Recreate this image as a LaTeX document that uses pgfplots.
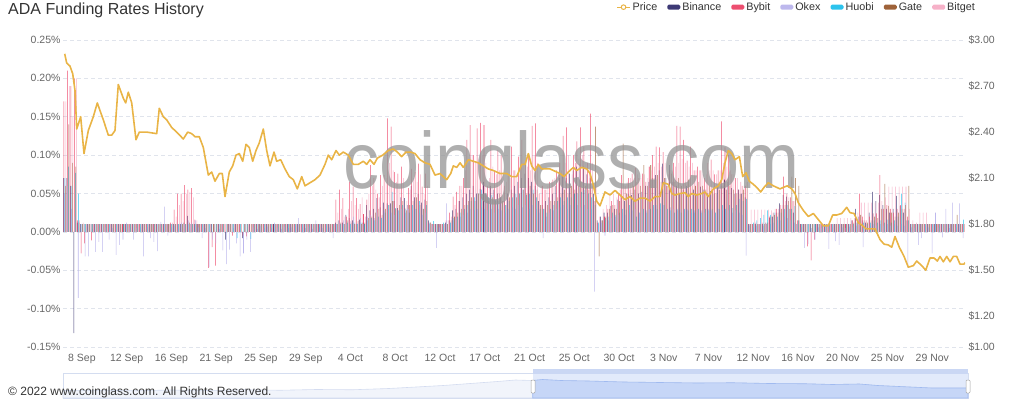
\documentclass[border=0pt]{standalone}
\usepackage{pgfplots}
\pgfplotsset{compat=1.18}
\usepackage{pgfplotstable}
\usepackage{fontspec}
\setmainfont{Liberation Sans}
\definecolor{cPrice}{RGB}{233,180,70}
\definecolor{cBin}{RGB}{45,40,105}
\definecolor{cByb}{RGB}{236,64,100}
\definecolor{cOkx}{RGB}{183,178,235}
\definecolor{cHuo}{RGB}{26,190,235}
\definecolor{cGat}{RGB}{150,85,40}
\definecolor{cBgt}{RGB}{245,170,195}
\definecolor{cGrid}{RGB}{224,228,236}
\definecolor{cTick}{RGB}{102,102,102}
\definecolor{cSlBorder}{RGB}{212,221,240}
\definecolor{cSlLine}{RGB}{212,220,240}
\definecolor{cSlArea}{RGB}{241,244,251}
\definecolor{cSlSel}{RGB}{226,234,251}
\definecolor{cSlSelArea}{RGB}{198,214,247}
\definecolor{cSlSelLine}{RGB}{160,186,240}
\definecolor{cSlTop}{RGB}{202,215,244}

% funding rates (%), one row per 8-hour period, Binance Bybit Okex Huobi Gate Bitget
\pgfplotstableread{
bn by ok hb gt bg
0.07 0.17 0.05 0.07 0.06 0.17
0.07 0.21 0.06 0.085 0.14 0.19
0.06 0.19 0.03 0.06 0.09 0.15
-0.132 0.20 0.02 0.077 0.085 0.20
0.012 0.015 -0.086 0.05 0.012 0.015
0.01 -0.028 0.01 0.01 0.01 0.012
0.01 -0.015 -0.032 0.01 0.01 0.01
0.01 0.01 -0.032 0.01 0.01 0.01
0.01 -0.011 0.004 0.01 0.01 0.01
0.01 0.01 -0.026 0.01 0.01 0.01
0.01 0.01 -0.013 0.01 0.01 0.01
0.01 0.01 -0.026 0.01 0.01 0.01
0.01 0.01 0.006 0.01 0.01 0.01
0.01 0.01 -0.01 0.01 0.01 0.01
0.01 0.01 0.005 0.01 0.01 0.01
0.01 0.01 -0.03 0.01 0.01 0.01
0.01 0.01 -0.017 0.01 0.01 0.01
0.01 0.01 -0.01 0.01 0.01 0.01
0.01 0.01 0.012 0.01 0.01 0.01
0.01 0.01 0.006 0.01 0.01 0.01
0.01 0.01 -0.01 0.01 0.01 0.01
0.01 0.01 0.005 0.01 0.01 0.01
0.01 0.01 0.007 0.01 0.01 0.01
0.01 0.01 -0.032 0.01 0.01 0.01
0.01 0.01 0.006 0.01 0.01 0.01
0.01 0.01 -0.008 0.01 0.01 0.01
0.01 0.01 -0.013 0.01 0.01 0.01
0.01 0.01 -0.025 0.01 0.01 0.01
0.01 0.01 0.013 0.01 0.01 0.01
0.01 0.01 0.033 0.01 0.01 0.01
0.01 0.01 -0.005 0.01 0.01 0.01
0.01 0.012 0.006 0.01 0.01 0.012
0.01 0.029 0.008 0.01 0.01 0.02
0.01 0.05 0.01 0.01 0.01 0.035
0.01 0.05 0.012 0.01 0.01 0.04
0.012 0.061 0.01 0.01 0.01 0.05
0.021 0.055 0.015 0.01 0.012 0.052
0.01 0.057 0.012 0.01 0.01 0.045
0.01 0.016 0.015 0.01 0.01 0.015
0.01 0.01 0.006 0.01 0.01 0.01
0.01 0.01 -0.008 0.01 0.01 0.01
0.01 0.01 0.005 0.01 0.01 0.01
0.01 -0.047 -0.046 0.01 0.01 0.01
0.01 -0.02 -0.01 0.01 0.01 0.01
0.01 -0.044 -0.015 0.01 0.01 0.01
0.01 0.01 0.004 0.01 0.01 0.01
0.01 0.01 -0.024 0.01 0.01 0.01
-0.01 0.01 -0.042 0.01 0.01 0.01
0.01 0.01 -0.023 0.01 0.01 0.01
0.01 -0.005 0.005 0.01 0.01 0.01
0.01 0.01 -0.015 -0.008 0.01 0.01
0.01 0.01 -0.032 0.01 0.01 0.01
-0.008 -0.005 -0.028 0.01 0.01 0.01
0.01 -0.006 -0.01 0.01 0.01 0.01
0.01 0.01 -0.026 -0.009 0.01 0.01
0.01 0.01 0.006 0.01 0.01 0.01
0.01 0.01 0.004 0.01 0.01 0.01
0.01 0.01 0.008 0.01 0.01 0.01
0.01 0.01 0.005 0.01 0.01 0.01
0.01 0.01 0.007 0.01 0.01 0.01
0.01 0.01 0.005 0.01 0.01 0.01
0.01 0.01 0.012 0.01 0.01 0.01
0.01 0.01 0.006 0.01 0.01 0.01
0.01 0.01 0.004 0.01 0.01 0.01
0.01 0.01 0.007 0.01 0.01 0.01
0.01 0.01 0.005 0.01 0.01 0.01
0.01 0.01 0.006 0.01 0.01 0.01
0.01 0.01 0.008 0.01 0.01 0.01
0.01 0.01 0.018 0.01 0.01 0.01
0.01 0.01 0.006 0.01 0.01 0.01
0.01 0.01 0.005 0.01 0.01 0.01
0.01 0.01 0.007 0.01 0.01 0.01
0.01 0.01 0.004 0.01 0.01 0.01
0.01 0.01 0.015 0.01 0.01 0.01
0.01 0.01 0.006 0.01 0.01 0.01
0.01 0.01 0.005 0.01 0.01 0.01
0.01 0.01 0.008 0.01 0.01 0.01
0.01 0.01 0.006 0.01 0.01 0.01
0.01 0.01 -0.008 0.01 0.01 0.01
0.012 0.042 0.01 0.01 0.01 0.025
0.015 0.055 0.012 0.01 0.012 0.03
0.012 0.044 0.015 0.01 0.01 0.02
0.022 0.02 0.01 0.012 0.015 0.03
0.018 0.065 0.014 0.01 0.012 0.04
0.015 0.059 0.02 0.012 0.01 0.035
0.01 0.044 0.012 0.01 0.014 0.03
0.016 0.036 0.018 0.012 0.01 0.045
0.012 0.023 0.01 0.01 0.012 0.02
0.035 0.042 0.02 0.015 0.018 0.05
0.028 0.087 0.022 0.018 0.02 0.06
0.03 0.07 0.018 0.015 0.025 0.055
0.044 0.05 0.025 0.02 0.03 0.045
0.032 0.074 0.02 0.018 0.022 0.06
0.038 0.074 0.028 0.025 0.03 0.07
0.037 0.148 0.03 0.035 0.035 0.09
0.037 0.137 0.025 0.052 0.04 0.08
0.04 0.078 0.022 0.031 0.03 0.065
0.031 0.076 0.028 0.028 0.035 0.06
0.045 0.085 0.03 0.035 0.04 0.07
0.044 0.031 0.025 0.03 0.028 0.04
0.035 0.057 0.03 0.025 0.035 0.055
0.06 0.082 0.028 0.035 0.04 0.07
0.045 0.078 0.03 0.03 0.045 0.065
0.05 0.089 0.025 0.04 0.035 0.075
0.038 0.059 0.022 0.03 0.03 0.05
0.042 0.076 0.025 0.035 0.04 0.06
0.015 0.012 0.01 0.012 0.012 0.012
0.01 0.01 0.008 0.014 0.01 0.01
0.01 0.01 -0.021 0.01 0.01 0.01
0.01 0.01 0.006 0.01 0.01 0.01
0.01 0.01 0.008 0.012 0.01 0.01
0.012 0.015 0.037 0.01 0.01 0.015
0.015 0.025 0.012 0.012 0.015 0.02
0.028 0.046 0.015 0.018 0.02 0.035
0.03 0.052 0.018 0.02 0.025 0.04
0.04 0.06 0.02 0.025 0.03 0.06
0.045 0.07 0.022 0.03 0.035 0.08
0.05 0.12 0.025 0.035 0.04 0.09
0.055 0.139 0.03 0.04 0.045 0.1
0.06 0.1 0.028 0.045 0.04 0.09
0.05 0.135 0.03 0.05 0.05 0.095
0.056 0.142 0.032 0.055 0.045 0.1
0.065 0.139 0.03 0.05 0.05 0.09
0.05 0.06 0.028 0.045 0.04 0.07
0.06 0.12 0.03 0.048 0.045 0.085
0.055 0.08 0.025 0.042 0.04 0.075
0.05 0.107 0.03 0.04 0.05 0.08
0.045 0.1 0.028 0.038 0.04 0.075
0.04 0.06 0.025 0.035 0.035 0.065
0.05 0.073 0.03 0.04 0.045 0.07
0.055 0.111 0.032 0.045 0.05 0.08
0.06 0.08 0.03 0.05 0.045 0.075
0.065 0.098 0.035 0.05 0.05 0.085
0.07 0.12 0.032 0.055 0.055 0.09
0.076 0.09 0.035 0.048 0.05 0.085
0.07 0.102 0.03 0.05 0.06 0.08
0.065 0.138 0.035 0.055 0.05 0.1
0.06 0.1415 0.03 0.045 0.055 0.09
0.04 0.05 0.025 0.03 0.035 0.06
0.035 0.06 -0.008 0.03 0.03 0.055
0.04 0.055 0.02 0.025 0.035 0.06
0.045 0.065 0.025 0.03 0.04 0.065
0.05 0.068 0.028 0.035 0.04 0.07
0.06 0.08 0.03 0.04 0.045 0.075
0.07 0.09 0.032 0.045 0.05 0.08
0.074 0.125 0.035 0.04 0.055 0.09
0.07 0.136 0.03 0.045 0.05 0.1
0.076 0.06 0.035 0.045 0.06 0.075
0.08 0.1 0.03 0.05 0.055 0.09
0.085 0.118 0.035 0.05 0.06 0.095
0.089 0.136 0.032 0.052 0.065 0.1
0.085 0.111 0.035 0.055 0.06 0.09
0.075 0.09 0.03 0.05 0.055 0.08
0.07 0.154 0.03 0.045 0.06 0.09
0.05 0.04 -0.078 0.035 0.137 0.06
0.015 0.012 0.01 0.012 -0.032 0.02
0.02 0.015 0.012 0.015 0.015 0.03
0.025 0.02 -0.005 0.018 0.02 0.035
0.025 0.03 0.015 0.02 0.03 0.05
0.034 0.04 0.018 0.025 0.035 0.05
0.03 0.035 0.02 0.022 0.03 0.045
0.042 0.05 0.022 0.025 0.04 0.055
0.045 0.074 0.025 0.03 0.115 0.06
0.04 0.06 0.022 0.029 0.05 0.065
0.05 0.07 0.025 0.035 0.055 0.07
0.048 0.076 0.028 0.042 0.06 0.07
0.055 0.083 0.03 0.02 0.065 0.075
0.05 0.07 0.025 0.025 0.06 0.07
0.052 0.076 0.03 0.03 0.087 0.075
0.06 0.065 0.028 0.025 0.06 0.07
0.065 0.085 0.03 0.03 0.087 0.08
0.07 0.1 0.032 0.035 0.07 0.085
0.074 0.111 0.035 0.03 0.074 0.09
0.08 0.11 0.03 0.037 0.065 0.085
0.089 0.104 0.035 0.035 0.07 0.09
0.07 0.06 0.03 0.03 0.06 0.075
0.087 0.08 0.032 0.028 0.076 0.08
0.065 0.09 0.03 0.025 0.065 0.085
0.06 0.138 0.028 0.03 0.07 0.09
0.05 0.137 0.03 0.025 0.06 0.095
0.055 0.12 0.028 0.03 0.065 0.09
0.06 0.093 0.03 0.028 0.068 0.085
0.05 0.111 0.025 0.03 0.06 0.09
0.055 0.08 0.028 0.025 0.06 0.08
0.05 0.085 0.03 0.03 0.065 0.08
0.059 0.08 0.028 0.025 0.06 0.075
0.055 0.07 0.025 0.03 0.055 0.075
0.05 0.09 0.03 0.028 0.06 0.08
0.053 0.094 0.028 0.03 0.055 0.08
0.05 0.075 0.025 0.025 0.05 0.075
0.058 0.08 0.03 0.03 0.055 0.08
0.06 0.144 0.028 0.035 0.06 0.09
0.068 0.11 0.03 0.03 0.055 0.085
0.065 0.1 0.028 0.035 0.06 0.08
0.057 0.075 0.025 0.031 0.055 0.075
0.05 0.07 0.028 0.035 0.05 0.07
0.055 0.055 0.025 0.043 0.05 0.065
0.05 0.06 0.022 0.04 0.055 0.06
0.045 0.06 -0.031 0.043 0.065 0.055
0.01 0.01 0.008 0.01 0.01 0.029
0.01 0.01 0.006 0.012 0.01 0.029
0.01 0.012 0.008 0.015 0.01 0.029
0.01 0.01 0.01 0.018 0.01 0.029
0.01 0.012 0.008 0.022 0.01 0.029
0.012 0.01 0.01 0.028 0.012 0.029
0.018 0.02 0.01 0.022 0.02 0.028
0.02 0.025 0.012 0.025 0.022 0.03
0.025 0.03 0.015 0.02 0.025 0.03
0.037 0.035 0.015 0.025 0.03 0.035
0.048 0.072 0.02 0.03 0.035 0.04
0.046 0.05 0.018 0.035 0.04 0.045
0.03 0.045 0.015 0.03 0.072 0.04
0.025 0.04 0.012 0.034 0.07 0.035
0.01 0.015 0.01 0.015 0.06 0.015
0.01 0.01 0.006 0.01 0.01 0.01
0.01 0.01 -0.021 0.01 0.01 0.01
0.01 -0.019 -0.016 0.01 0.01 0.01
0.01 -0.037 0.005 0.01 0.01 0.01
0.01 -0.01 -0.01 0.01 0.01 0.01
0.01 0.01 0.006 0.01 0.01 0.01
0.01 0.01 0.005 0.01 0.01 0.01
0.01 0.01 0.008 0.01 0.01 0.01
0.01 0.01 -0.022 0.01 0.01 0.01
0.01 0.01 0.006 0.01 0.01 0.01
0.01 0.01 -0.012 0.01 0.01 0.018
0.01 0.01 -0.017 0.01 0.01 0.018
0.01 0.01 0.006 0.01 0.01 0.018
0.01 0.01 0.005 0.01 0.01 0.018
0.01 0.01 0.007 0.01 0.01 0.018
0.015 0.015 0.006 0.01 0.012 0.018
0.03 0.02 0.008 0.012 0.015 0.025
0.02 0.05 0.01 0.01 0.022 0.038
0.015 0.02 -0.02 0.012 0.015 0.038
0.012 0.015 0.006 0.01 0.012 0.038
0.025 0.02 0.008 0.012 0.015 0.038
0.052 0.024 0.01 0.015 0.02 0.038
0.04 0.024 0.008 0.012 0.018 0.038
0.048 0.074 0.01 0.015 0.03 0.04
0.035 0.03 0.008 0.012 0.0625 0.045
0.03 0.035 0.01 0.016 0.034 0.059
0.025 0.03 0.008 0.012 0.025 0.059
0.03 0.025 0.01 0.015 0.02 0.059
0.047 0.03 0.008 0.02 0.025 0.059
0.034 0.035 0.01 0.05 0.03 0.059
0.025 0.03 0.008 0.038 0.035 0.059
0.015 0.02 -0.047 0.015 0.06 0.03
0.01 0.01 0.006 0.01 0.01 0.015
0.01 0.01 0.005 0.01 0.01 0.012
0.01 0.01 -0.017 0.01 0.01 0.025
0.01 0.01 -0.008 0.01 0.01 0.025
0.01 0.01 0.008 0.01 0.01 0.025
0.01 0.01 0.006 0.01 0.01 0.01
0.01 0.01 -0.028 0.01 0.01 0.01
0.01 0.01 0.025 0.01 0.01 0.01
0.01 0.01 0.006 0.01 0.01 0.01
0.01 0.01 -0.007 0.01 0.01 0.01
0.01 0.01 0.03 0.01 0.01 0.01
0.01 0.01 0.005 0.01 0.01 0.01
0.01 0.01 0.038 0.01 0.01 0.01
0.01 0.01 0.006 0.01 0.022 0.01
0.01 0.01 0.037 0.01 0.01 0.01
0.01 0.01 -0.008 0.016 0.01 0.01
}\rates

% ADA price (USD) against the period index
\pgfplotstableread{
i p
0 2.91
0.57 2.85
1.53 2.83
2.32 2.78
2.99 2.67
3.48 2.42
4.64 2.50
5.60 2.26
6.85 2.41
8.30 2.50
9.46 2.59
11.21 2.48
12.66 2.38
13.65 2.38
14.60 2.41
15.56 2.71
17.02 2.62
17.71 2.59
18.47 2.66
19.46 2.59
20.70 2.35
21.66 2.40
23.81 2.40
26.72 2.39
27.47 2.555
28.63 2.50
29.62 2.48
31.07 2.43
32.53 2.40
34.44 2.355
35.72 2.40
36.88 2.39
37.84 2.37
39.09 2.37
40.25 2.30
41.71 2.12
42.69 2.14
43.65 2.08
44.90 2.13
45.77 2.13
46.56 1.98
47.80 2.14
48.79 2.18
49.75 2.25
50.71 2.26
51.70 2.21
52.66 2.32
53.61 2.30
54.60 2.21
55.56 2.28
56.52 2.33
57.68 2.42
58.67 2.28
59.63 2.18
60.79 2.27
61.57 2.21
62.74 2.22
63.98 2.16
65.23 2.11
66.40 2.09
67.56 2.03
68.84 2.11
69.79 2.05
71.25 2.07
72.70 2.09
74.15 2.12
75.60 2.19
76.56 2.25
77.55 2.22
78.80 2.28
79.76 2.25
80.92 2.27
82.37 2.25
83.82 2.19
85.28 2.19
86.73 2.21
87.72 2.19
88.67 2.22
89.84 2.19
90.79 2.23
92.36 2.25
93.99 2.28
95.44 2.29
96.60 2.27
97.88 2.24
99.13 2.27
100.50 2.27
101.75 2.26
103.20 2.22
104.65 2.20
106.10 2.19
107.55 2.12
109.01 2.13
110.95 2.09
112.12 2.13
112.87 2.18
113.86 2.17
114.82 2.20
115.78 2.17
117.23 2.22
118.68 2.21
120.13 2.20
121.58 2.18
123.04 2.16
124.49 2.15
126.44 2.13
128.38 2.13
129.83 2.11
131.29 2.11
132.74 2.19
133.70 2.19
134.66 2.26
135.64 2.18
136.60 2.15
137.56 2.19
138.55 2.16
139.51 2.16
140.96 2.16
141.92 2.15
142.90 2.14
143.86 2.13
145.03 2.11
146.28 2.14
147.73 2.17
148.71 2.15
150.17 2.17
151.62 2.16
152.58 2.13
153.54 2.055
154.52 1.95
155.48 1.92
156.93 2.01
158.39 1.99
159.84 2.02
161.29 1.99
162.74 1.96
164.20 1.98
165.65 1.95
167.10 1.97
168.55 1.97
170.01 1.95
171.46 1.98
172.91 1.98
173.87 2.07
175.32 2.06
176.31 2.00
177.27 1.99
178.72 2.00
180.17 2.005
181.13 1.98
182.12 2.00
183.57 1.99
185.02 2.00
185.98 2.01
186.94 1.98
188.39 2.03
189.85 2.05
190.83 2.09
191.79 2.20
192.75 2.28
193.74 2.26
194.70 2.22
195.95 2.24
196.93 2.11
197.89 2.135
198.85 2.08
200.01 2.06
201.00 2.04
202.16 2.01
203.12 2.04
204.37 2.07
205.82 2.05
207.77 2.03
208.73 2.04
209.89 2.05
211.17 2.03
212.12 2.00
213.08 1.94
214.53 1.89
215.99 1.85
217.44 1.87
218.89 1.83
220.34 1.79
221.80 1.79
223.07 1.86
224.24 1.86
225.69 1.87
227.14 1.91
228.10 1.875
229.26 1.87
230.51 1.81
231.79 1.79
232.75 1.77
233.91 1.77
235.36 1.77
236.81 1.70
237.98 1.67
239.22 1.665
240.21 1.65
241.17 1.72
242.42 1.65
243.79 1.59
245.03 1.52
246.49 1.53
247.47 1.56
248.93 1.53
250.09 1.50
251.34 1.58
252.50 1.58
253.46 1.56
254.24 1.59
255.20 1.555
256.19 1.59
257.15 1.555
258.11 1.59
259.09 1.59
260.05 1.54
261.21 1.54
261.5 1.55
}\price

% overview slider: position in full history (%), relative price level
\pgfplotstableread{
s v
0 0.30
4 0.31
8 0.29
12 0.32
16 0.30
20 0.33
24 0.31
28 0.34
32 0.33
36 0.38
39 0.44
42 0.50
45 0.58
48 0.66
50 0.72
51.9 0.70
53 0.74
55 0.70
58 0.68
62 0.64
66 0.62
70 0.60
74 0.61
78 0.58
82 0.57
85 0.54
88 0.56
90 0.50
93 0.45
96 0.40
100 0.40
}\slider

\begin{document}
\begin{tikzpicture}[x=1pt,y=1pt]
\path[use as bounding box] (0pt,0pt) rectangle (1024pt,405pt);
\node[anchor=west, font=\fontsize{16}{18}\selectfont, text=black!80, inner sep=0] at (8pt,395pt) {ADA Funding Rates History};

\begin{axis}[
  at={(63pt,58pt)}, anchor=south west, scale only axis,
  width=902pt, height=307pt,
  xmin=-0.5, xmax=261.5, ymin=-0.15, ymax=0.25,
  axis line style={draw=none}, major tick style={draw=none},
  ytick={-0.15,-0.10,-0.05,0,0.05,0.10,0.15,0.20,0.25},
  yticklabels={-0.15\%,-0.10\%,-0.05\%,0.00\%,0.05\%,0.10\%,0.15\%,0.20\%,0.25\%},
  xtick={5,18,...,252},
  xticklabels={8 Sep,12 Sep,16 Sep,21 Sep,25 Sep,29 Sep,4 Oct,8 Oct,12 Oct,17 Oct,21 Oct,25 Oct,30 Oct,3 Nov,7 Nov,12 Nov,16 Nov,20 Nov,25 Nov,29 Nov},
  xticklabel style={yshift=-4pt},
  yticklabel style={xshift=1pt},
  ymajorgrids, grid style={cGrid, dash pattern=on 4pt off 3pt, line width=0.7pt},
  tick label style={font=\fontsize{10.5}{12}\selectfont, text=cTick},
  legend columns=7,
  legend style={draw=none, fill=none, at={(1.0155,1.107)}, anchor=east,
    font=\fontsize{10.8}{12}\selectfont, text=black!80,
    /tikz/every odd column/.append style={column sep=1pt},
    /tikz/every even column/.append style={column sep=9pt},
    nodes={inner sep=1pt}},
]
\addlegendimage{cPrice, legend image code/.code={\draw[line width=1.3pt] (0pt,0pt) -- (13pt,0pt); \draw[line width=1pt, fill=white] (6.5pt,0pt) circle (2.3pt);}}
\addlegendentry{Price}
\addplot[ybar, bar width=0.15, bar shift=-0.36, fill=cBin, draw=none, fill opacity=0.92,
  legend image code/.code={\fill[rounded corners=1.5pt] (0pt,-2.5pt) rectangle (13pt,2.5pt);}]
  table[x expr=\coordindex, y=bn] {\rates};
\addlegendentry{Binance}
\addplot[ybar, bar width=0.15, bar shift=-0.216, fill=cByb, draw=none, fill opacity=0.92,
  legend image code/.code={\fill[rounded corners=1.5pt] (0pt,-2.5pt) rectangle (13pt,2.5pt);}]
  table[x expr=\coordindex, y=by] {\rates};
\addlegendentry{Bybit}
\addplot[ybar, bar width=0.15, bar shift=-0.072, fill=cOkx, draw=none, fill opacity=0.92,
  legend image code/.code={\fill[rounded corners=1.5pt] (0pt,-2.5pt) rectangle (13pt,2.5pt);}]
  table[x expr=\coordindex, y=ok] {\rates};
\addlegendentry{Okex}
\addplot[ybar, bar width=0.15, bar shift=0.072, fill=cHuo, draw=none, fill opacity=0.92,
  legend image code/.code={\fill[rounded corners=1.5pt] (0pt,-2.5pt) rectangle (13pt,2.5pt);}]
  table[x expr=\coordindex, y=hb] {\rates};
\addlegendentry{Huobi}
\addplot[ybar, bar width=0.15, bar shift=0.216, fill=cGat, draw=none, fill opacity=0.92,
  legend image code/.code={\fill[rounded corners=1.5pt] (0pt,-2.5pt) rectangle (13pt,2.5pt);}]
  table[x expr=\coordindex, y=gt] {\rates};
\addlegendentry{Gate}
\addplot[ybar, bar width=0.15, bar shift=0.36, fill=cBgt, draw=none, fill opacity=0.92,
  legend image code/.code={\fill[rounded corners=1.5pt] (0pt,-2.5pt) rectangle (13pt,2.5pt);}]
  table[x expr=\coordindex, y=bg] {\rates};
\addlegendentry{Bitget}
\end{axis}

% watermark
\node[anchor=base, font=\fontsize{80}{80}\selectfont, text=black!42, opacity=0.75, xscale=0.9, inner sep=0] at (571.5pt,217pt) {coinglass.com};

\begin{axis}[
  at={(63pt,58pt)}, anchor=south west, scale only axis,
  width=902pt, height=307pt,
  xmin=-0.5, xmax=261.5, ymin=1, ymax=3,
  axis x line=none, axis y line*=right,
  axis line style={draw=none}, major tick style={draw=none},
  ytick={1,1.2,1.5,1.8,2.1,2.4,2.7,3},
  yticklabels={\$1.00,\$1.20,\$1.50,\$1.80,\$2.10,\$2.40,\$2.70,\$3.00},
  tick label style={font=\fontsize{10.5}{12}\selectfont, text=cTick},
]
\addplot[cPrice, line width=1.6pt, no marks, line join=round] table[x=i, y=p] {\price};
\end{axis}

% overview slider
\begin{axis}[
  at={(63pt,7pt)}, anchor=south west, scale only axis,
  width=905pt, height=25pt, xmin=0, xmax=100, ymin=0, ymax=1,
  hide axis, clip=false,
]
\draw[cSlBorder, line width=0.6pt] (axis cs:0,0) rectangle (axis cs:100,1);
\fill[cSlSel] (axis cs:51.9,0) rectangle (axis cs:100,1);
\addplot[cSlLine, line width=0.6pt, fill=cSlArea] table[x=s, y=v] {\slider} \closedcycle;
\addplot[cSlSelLine, line width=0.6pt, fill=cSlSelArea, restrict x to domain=51.9:100] table[x=s, y=v] {\slider} \closedcycle;
\end{axis}
\fill[cSlTop] (533pt,31pt) rectangle (968pt,36pt);
\draw[fill=white, draw=black!35, rounded corners=1pt, line width=0.5pt] (531pt,12pt) rectangle (535pt,25pt);
\draw[fill=white, draw=black!35, rounded corners=1pt, line width=0.5pt] (966pt,12pt) rectangle (970pt,25pt);

\node[anchor=west, font=\fontsize{12}{14}\selectfont, text=black!80, inner sep=0] at (8pt,13pt) {© 2022 www.coinglass.com. All Rights Reserved.};
\end{tikzpicture}
\end{document}
